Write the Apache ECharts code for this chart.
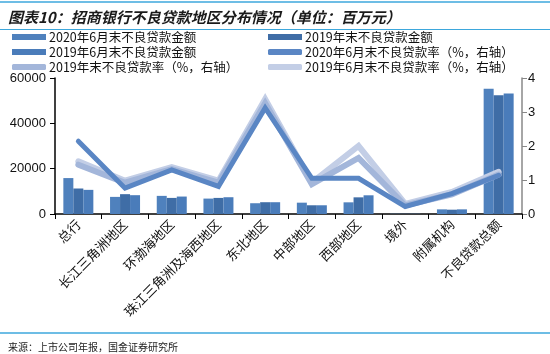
<!DOCTYPE html>
<html>
<head>
<meta charset="utf-8">
<script src="https://cdn.jsdelivr.net/npm/echarts@6/dist/echarts.min.js"></script>
<style>
html,body{margin:0;padding:0;background:#fff;}
#chart_1{width:550px;height:354px;}
</style>
</head>
<body>
<div id="chart_1"></div>
<script>
var categories = ['总行','长江三角洲地区','环渤海地区','珠江三角洲及海西地区','东北地区','中部地区','西部地区','境外','附属机构','不良贷款总额'];
var npl2020H1 = [15850, 7550, 8000, 6800, 4750, 5000, 5150, 100, 2050, 55300];
var npl2019Y = [11250, 8750, 7100, 7100, 5200, 3850, 7350, 100, 1900, 52350];
var npl2019H1 = [10650, 8300, 7700, 7400, 5200, 3850, 8250, 100, 2050, 53200];
var rate2020H1 = [2.14, 0.76, 1.30, 0.81, 3.12, 1.05, 1.05, 0.22, 0.60, 1.14];
var rate2019Y = [1.45, 0.92, 1.32, 0.92, 3.26, 0.88, 1.65, 0.25, 0.58, 1.16];
var rate2019H1 = [1.55, 0.98, 1.38, 0.98, 3.38, 0.92, 2.00, 0.30, 0.65, 1.24];
var leftTicks = [0, 20000, 40000, 60000];
var rightTicks = [0, 1, 2, 3, 4];

function initChart(){
    var myChart1 = echarts.init(document.getElementById('chart_1'));
    var cjk = '"Noto Sans CJK SC", sans-serif';
    var barColors = ['#4F81BD', '#3F6DA6', '#4A7CBA'];
    var lineColors = ['#5A86C4', '#A3B6DA', '#C3CEE6'];
    var names = ['2020年6月末不良贷款金额','2019年末不良贷款金额','2019年6月末不良贷款金额',
                 '2020年6月末不良贷款率（%，右轴）','2019年末不良贷款率（%，右轴）','2019年6月末不良贷款率（%，右轴）'];
    var barData = [npl2020H1, npl2019Y, npl2019H1];
    var lineData = [rate2020H1, rate2019Y, rate2019H1];
    var series = [];
    for (var i = 0; i < 3; i++) {
        series.push({
            name: names[i], type: 'bar', yAxisIndex: 0,
            barWidth: 10, barGap: '0%',
            itemStyle: {color: barColors[i]},
            data: barData[i]
        });
    }
    for (var j = 0; j < 3; j++) {
        series.push({
            name: names[3 + j], type: 'line', yAxisIndex: 1,
            symbol: 'none',
            lineStyle: {color: lineColors[j], width: j == 0 ? 5 : 6, cap: 'round', join: 'miter'},
            itemStyle: {color: lineColors[j]},
            z: 10 - j,
            data: lineData[j]
        });
    }
    // legend split into two columns like the Excel original
    var legendBase = {
        itemWidth: 34, itemHeight: 6, itemGap: 1, orient: 'vertical', padding: 0,
        textStyle: {fontFamily: cjk, fontSize: 12.5, color: '#111', padding: [0, 0, 0, -2], lineHeight: 14}
    };
    var option1 = {
        animation: false,
        title: [
            {text: '图表10：招商银行不良贷款地区分布情况（单位：百万元）', left: 3, top: 5,
             textStyle: {fontFamily: cjk, fontSize: 15, fontWeight: 'bold', fontStyle: 'italic', color: '#1a1a1a'}},
            {text: '来源：上市公司年报，国金证券研究所', left: 3, top: 337,
             textStyle: {fontFamily: cjk, fontSize: 10, fontWeight: 'normal', color: '#222'}}
        ],
        graphic: [
            {type: 'line', shape: {x1: 0, y1: 2, x2: 550, y2: 2}, style: {stroke: '#3DA7DC', lineWidth: 1.5}},
            {type: 'line', shape: {x1: 0, y1: 29.5, x2: 550, y2: 29.5}, style: {stroke: '#3DA7DC', lineWidth: 1}},
            {type: 'line', shape: {x1: 0, y1: 333, x2: 550, y2: 333}, style: {stroke: '#3DA7DC', lineWidth: 1.5}}
        ],
        legend: [
            Object.assign({left: 12, top: 30, data: [
                {name: names[0], icon: 'rect'},
                {name: names[2], icon: 'rect'},
                {name: names[4], icon: 'roundRect'}
            ]}, legendBase),
            Object.assign({left: 268, top: 30, data: [
                {name: names[1], icon: 'rect'},
                {name: names[3], icon: 'roundRect'},
                {name: names[5], icon: 'roundRect'}
            ]}, legendBase)
        ],
        grid: {left: 55, right: 28, top: 78, bottom: 140},
        xAxis: [{
            type: 'category',
            data: categories,
            axisLine: {lineStyle: {color: '#000', width: 1.5}},
            axisTick: {show: true, inside: false, length: 5, lineStyle: {color: '#000'}},
            axisLabel: {rotate: 45, interval: 0, fontFamily: cjk, fontSize: 13, color: '#111', margin: 8}
        }],
        yAxis: [
            {
                type: 'value', min: 0, max: 60000, interval: 20000,
                splitLine: {show: false},
                axisLine: {show: true, lineStyle: {color: '#000', width: 1.5}},
                axisTick: {show: true, length: 5, lineStyle: {color: '#000'}},
                axisLabel: {fontFamily: 'Arial, "Liberation Sans"', fontSize: 13, color: '#111', margin: 9,
                    formatter: function(v){ return leftTicks.indexOf(v) >= 0 ? String(v) : ''; }}
            },
            {
                type: 'value', min: 0, max: 4, interval: 1,
                splitLine: {show: false},
                axisLine: {show: true, lineStyle: {color: '#888', width: 1.5}},
                axisTick: {show: true, length: 5, lineStyle: {color: '#888'}},
                axisLabel: {fontFamily: 'Arial, "Liberation Sans"', fontSize: 13, color: '#111', margin: 6,
                    formatter: function(v){ return rightTicks.indexOf(v) >= 0 ? String(v) : ''; }}
            }
        ],
        series: series
    };
    myChart1.setOption(option1);
}
initChart();
</script>
</body>
</html>
